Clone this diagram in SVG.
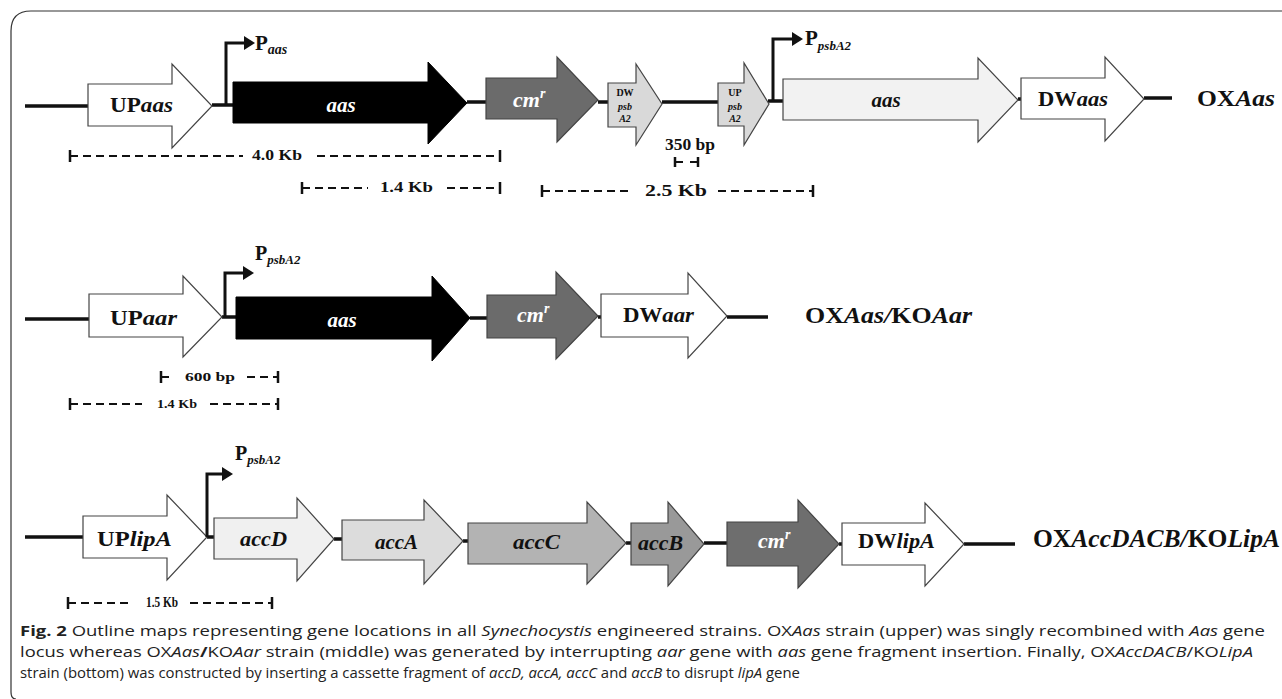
<svg xmlns="http://www.w3.org/2000/svg" width="1282" height="699" viewBox="0 0 1282 699">
<style>
.bb{fill:none;stroke:#111;stroke-width:3.5}
.g{stroke:#444;stroke-width:1.2}
.lbl{font-family:"Liberation Serif","Times New Roman",serif;font-weight:bold;fill:#111}
.i{font-style:italic}
.w{fill:#fff}
.dim{fill:none;stroke:#111;stroke-width:2;stroke-dasharray:8 5}
.tick{stroke:#111;stroke-width:2.5}
.prom{fill:none;stroke:#111;stroke-width:3}
.cap{font-family:"Open Sans","Noto Sans",sans-serif;font-size:14.5px;fill:#222}
</style>
<path d="M1282 11 L31 11 Q11 11 11 31 L11 692 Q11 699 16 699" fill="none" stroke="#333" stroke-width="1.2"/>

<g id="connectors">
<path class="bb" d="M25 106H88M212 105H233M467 102H486M598 102H608M662 102H718M768 101H783M1018 99H1021M1144 98H1172"/>
<path class="bb" d="M25 319H89M222 317H236M470 318H487M598 317H601M727 317H768"/>
<path class="bb" d="M25 537H83M207 537H214M334 539H342M463 541H468M626 543H631M704 543H727M839 544H842M964 544H1015"/>
</g>

<!-- Row 1 -->
<g id="r1-upaas"><polygon class="g" fill="#fff" points="88,84 172,84 172,64 212,106 172,148 172,126 88,126"/>
<text class="lbl" x="110" y="112" font-size="20" textLength="63" lengthAdjust="spacingAndGlyphs">UP<tspan class="i">aas</tspan></text></g>
<g id="r1-paas"><path class="prom" d="M226 106V43H246"/><polygon points="244,36 255,43 244,50" fill="#111"/>
<text class="lbl" x="255" y="50" font-size="21">P<tspan class="i" font-size="14" dy="4">aas</tspan></text></g>
<g id="r1-aas"><polygon fill="#000" stroke="#000" points="233,82 428,82 428,62 467,103 428,144 428,123 233,123"/>
<text class="lbl i w" x="341" y="112" font-size="21" text-anchor="middle">aas</text></g>
<g id="r1-cm"><polygon class="g" fill="#6b6b6b" points="486,78 557,78 557,57 598,100 557,142 557,119 486,119"/>
<text class="lbl i w" x="513" y="107" font-size="22">cm<tspan font-size="14" dy="-9">r</tspan></text></g>
<g id="r1-dwpsb"><polygon class="g" fill="#d9d9d9" points="608,83 636,83 636,64 662,104 636,145 636,127 608,127"/>
<text class="lbl" x="625" y="96" font-size="10" text-anchor="middle">DW</text>
<text class="lbl i" x="625" y="110" font-size="10" text-anchor="middle" fill="#444">psb</text>
<text class="lbl i" x="625" y="122" font-size="10" text-anchor="middle" fill="#444">A2</text></g>
<g id="r1-uppsb"><polygon class="g" fill="#d9d9d9" points="718,83 744,83 744,63 769,104 744,145 744,126 718,126"/>
<text class="lbl" x="735" y="96" font-size="10" text-anchor="middle">UP</text>
<text class="lbl i" x="735" y="110" font-size="10" text-anchor="middle" fill="#444">psb</text>
<text class="lbl i" x="735" y="122" font-size="10" text-anchor="middle" fill="#444">A2</text></g>
<g id="r1-ppsb"><path class="prom" d="M773 101V39H794"/><polygon points="792,32 803,39 792,46" fill="#111"/>
<text class="lbl" x="805" y="45" font-size="21">P<tspan class="i" font-size="13" dy="5">psbA2</tspan></text></g>
<g id="r1-aas2"><polygon class="g" fill="#f2f2f2" points="783,79 978,79 978,58 1018,100 978,142 978,120 783,120"/>
<text class="lbl i" x="886" y="107" font-size="21" text-anchor="middle">aas</text></g>
<g id="r1-dwaas"><polygon class="g" fill="#fff" points="1021,78 1105,78 1105,57 1144,99 1105,141 1105,119 1021,119"/>
<text class="lbl" x="1038" y="106" font-size="20" textLength="70" lengthAdjust="spacingAndGlyphs">DW<tspan class="i">aas</tspan></text></g>
<g id="r1-name"><text class="lbl" x="1197" y="106" font-size="24" textLength="78" lengthAdjust="spacingAndGlyphs">OX<tspan class="i">Aas</tspan></text></g>

<g id="r1-dims">
<path class="dim" d="M70 156H243M317 156H500"/><path class="tick" d="M70 150V162M500 150V162"/>
<text class="lbl" x="252" y="160" font-size="15" textLength="50" lengthAdjust="spacingAndGlyphs">4.0 Kb</text>
<path class="dim" d="M302 188H368M447 188H500"/><path class="tick" d="M302 182V194M500 182V194"/>
<text class="lbl" x="380" y="192" font-size="15" textLength="53" lengthAdjust="spacingAndGlyphs">1.4 Kb</text>
<text class="lbl" x="665" y="150" font-size="16" textLength="50" lengthAdjust="spacingAndGlyphs">350 bp</text>
<path class="dim" d="M675 162H684M690 162H698"/><path class="tick" d="M675 157V167M698 157V167"/>
<path class="dim" d="M542 191H633M718 191H813"/><path class="tick" d="M542 185V197M813 185V197"/>
<text class="lbl" x="645" y="196" font-size="17" textLength="62" lengthAdjust="spacingAndGlyphs">2.5 Kb</text>
</g>

<!-- Row 2 -->
<g id="r2-upaar"><polygon class="g" fill="#fff" points="89,294 183,294 183,276 222,317 183,357 183,337 89,337"/>
<text class="lbl" x="110" y="325" font-size="20" textLength="67" lengthAdjust="spacingAndGlyphs">UP<tspan class="i">aar</tspan></text></g>
<g id="r2-ppsb"><path class="prom" d="M225 317V273H245"/><polygon points="243,266 254,273 243,280" fill="#111"/>
<text class="lbl" x="255" y="260" font-size="20">P<tspan class="i" font-size="13" dy="4">psbA2</tspan></text></g>
<g id="r2-aas"><polygon fill="#000" stroke="#000" points="236,297 432,297 432,276 470,318 432,361 432,339 236,339"/>
<text class="lbl i w" x="342" y="327" font-size="21" text-anchor="middle">aas</text></g>
<g id="r2-cm"><polygon class="g" fill="#6b6b6b" points="487,295 556,295 556,272 598,316 556,359 556,338 487,338"/>
<text class="lbl i w" x="517" y="322" font-size="22">cm<tspan font-size="14" dy="-9">r</tspan></text></g>
<g id="r2-dwaar"><polygon class="g" fill="#fff" points="601,294 688,294 688,273 727,316 688,358 688,337 601,337"/>
<text class="lbl" x="623" y="322" font-size="20" textLength="71" lengthAdjust="spacingAndGlyphs">DW<tspan class="i">aar</tspan></text></g>
<g id="r2-name"><text class="lbl" x="805" y="323" font-size="24" textLength="167" lengthAdjust="spacingAndGlyphs">OX<tspan class="i">Aas/</tspan>KO<tspan class="i">Aar</tspan></text></g>
<g id="r2-dims">
<path class="dim" d="M161 377H172M247 377H278"/><path class="tick" d="M161 371V383M278 371V383"/>
<text class="lbl" x="185" y="381" font-size="13" textLength="50" lengthAdjust="spacingAndGlyphs">600 bp</text>
<path class="dim" d="M70 404H142M210 404H278"/><path class="tick" d="M70 398V410M278 398V410"/>
<text class="lbl" x="157" y="408" font-size="13" textLength="40" lengthAdjust="spacingAndGlyphs">1.4 Kb</text>
</g>

<!-- Row 3 -->
<g id="r3-uplipa"><polygon class="g" fill="#fff" points="83,516 167,516 167,495 207,537 167,580 167,558 83,558"/>
<text class="lbl" x="97" y="546" font-size="21" textLength="75" lengthAdjust="spacingAndGlyphs">UP<tspan class="i">lipA</tspan></text></g>
<g id="r3-ppsb"><path class="prom" d="M207 537V474H224"/><polygon points="222,467 233,474 222,481" fill="#111"/>
<text class="lbl" x="235" y="460" font-size="20" font-weight="normal">P<tspan class="i" font-weight="bold" font-size="13" dy="4">psbA2</tspan></text></g>
<g id="r3-accd"><polygon class="g" fill="#f0f0f0" points="214,518 297,518 297,498 334,539 297,581 297,559 214,559"/>
<text class="lbl i" x="240" y="546" font-size="21" textLength="47" lengthAdjust="spacingAndGlyphs">accD</text></g>
<g id="r3-acca"><polygon class="g" fill="#dcdcdc" points="342,520 424,520 424,500 463,541 424,584 424,560 342,560"/>
<text class="lbl i" x="375" y="549" font-size="21" textLength="43" lengthAdjust="spacingAndGlyphs">accA</text></g>
<g id="r3-accc"><polygon class="g" fill="#b3b3b3" points="468,523 587,523 587,502 626,543 587,584 587,564 468,564"/>
<text class="lbl i" x="513" y="549" font-size="21" textLength="47" lengthAdjust="spacingAndGlyphs">accC</text></g>
<g id="r3-accb"><polygon class="g" fill="#999" points="631,523 668,523 668,502 704,544 668,586 668,565 631,565"/>
<text class="lbl i" x="638" y="550" font-size="21" textLength="45" lengthAdjust="spacingAndGlyphs">accB</text></g>
<g id="r3-cm"><polygon class="g" fill="#6e6e6e" points="727,522 798,522 798,500 839,544 798,588 798,566 727,566"/>
<text class="lbl i w" x="758" y="548" font-size="22">cm<tspan font-size="14" dy="-9">r</tspan></text></g>
<g id="r3-dwlipa"><polygon class="g" fill="#fff" points="842,523 925,523 925,503 964,544 925,586 925,565 842,565"/>
<text class="lbl" x="858" y="548" font-size="20" textLength="77" lengthAdjust="spacingAndGlyphs">DW<tspan class="i">lipA</tspan></text></g>
<g id="r3-name"><text class="lbl" x="1033" y="547" font-size="25" textLength="247" lengthAdjust="spacingAndGlyphs">OX<tspan class="i">AccDACB/</tspan>KO<tspan class="i">LipA</tspan></text></g>
<g id="r3-dims">
<path class="dim" d="M68 603H130M190 603H272"/><path class="tick" d="M68 597V609M272 597V609"/>
<text class="lbl" x="146" y="607" font-size="14" textLength="32" lengthAdjust="spacingAndGlyphs">1.5 Kb</text>
</g>

<g id="caption">
<text class="cap" x="20" y="636" textLength="1245" lengthAdjust="spacingAndGlyphs"><tspan font-weight="bold">Fig. 2</tspan>  Outline maps representing gene locations in all <tspan font-style="italic">Synechocystis</tspan> engineered strains. OX<tspan font-style="italic">Aas</tspan> strain (upper) was singly recombined with <tspan font-style="italic">Aas</tspan> gene</text>
<text class="cap" x="20" y="657" textLength="1233" lengthAdjust="spacingAndGlyphs">locus whereas OX<tspan font-style="italic">Aas</tspan><tspan font-weight="bold">/</tspan>KO<tspan font-style="italic">Aar</tspan> strain (middle) was generated by interrupting <tspan font-style="italic">aar</tspan> gene with <tspan font-style="italic">aas</tspan> gene fragment insertion. Finally, OX<tspan font-style="italic">AccDACB</tspan>/KO<tspan font-style="italic">LipA</tspan></text>
<text class="cap" x="20" y="678" textLength="780" lengthAdjust="spacingAndGlyphs">strain (bottom) was constructed by inserting a cassette fragment of <tspan font-style="italic">accD, accA, accC</tspan> and <tspan font-style="italic">accB</tspan> to disrupt <tspan font-style="italic">lipA</tspan> gene</text>
</g>
</svg>
